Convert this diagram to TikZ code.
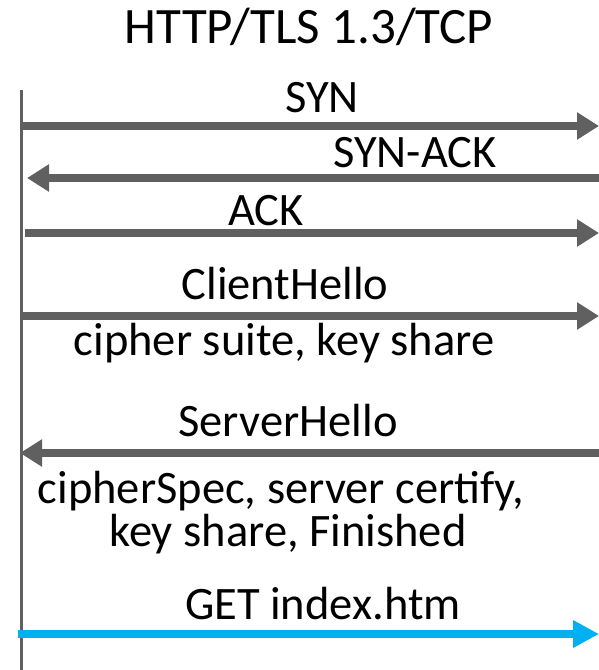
\documentclass[tikz,border=0pt]{standalone}
\usepackage{fontspec}
\setmainfont{Carlito}
\usetikzlibrary{arrows.meta}
\definecolor{msggray}{HTML}{606060}
\definecolor{msgblue}{HTML}{00B0F0}
\tikzset{
  lbl/.style={anchor=base, inner sep=0pt, font=\fontsize{46.5}{50}\selectfont, align=center},
  ttl/.style={anchor=base, inner sep=0pt, font=\fontsize{51}{56}\selectfont},
  msg/.style={draw=msggray, line width=8pt, -{Triangle[length=22pt,width=26pt]}},
  msgb/.style={draw=msgblue, line width=8pt, -{Triangle[length=26pt,width=26pt]}},
  life/.style={draw=msggray, line width=3pt}
}
\begin{document}
\begin{tikzpicture}[x=1pt,y=-1pt]
\useasboundingbox (0,0) rectangle (599,670);
% lifeline
\coordinate (lt) at (21,90);
\coordinate (lb) at (21,670);
\draw[life] (lt) -- (lb);
% endpoints
\coordinate (s1) at (23,126);  \coordinate (e1) at (599,126);
\coordinate (s2) at (599,178); \coordinate (e2) at (27,178);
\coordinate (s3) at (25,233);  \coordinate (e3) at (599,233);
\coordinate (s4) at (22,316);  \coordinate (e4) at (599,316);
\coordinate (s5) at (599,453); \coordinate (e5) at (20,453);
\coordinate (s6) at (18,634);  \coordinate (e6) at (599,634);
\draw[msg] (s1) -- (e1);
\draw[msg] (s2) -- (e2);
\draw[msg] (s3) -- (e3);
\draw[msg] (s4) -- (e4);
\draw[msg] (s5) -- (e5);
\draw[msgb] (s6) -- (e6);
% labels
\node[ttl] (title) at (309,43) {HTTP/TLS 1.3/TCP};
\node[lbl] (syn) at (322,112) {SYN};
\node[lbl] (synack) at (415,167) {SYN-ACK};
\node[lbl] (ack) at (266,225) {ACK};
\node[lbl] (ch) at (285,299) {ClientHello};
\node[lbl] (chx) at (284,355) {cipher suite, key share};
\node[lbl] (sh) at (288,436) {ServerHello};
\node[lbl] (shx1) at (281,503) {cipherSpec, server certify,};
\node[lbl] (shx2) at (288,546) {key share, Finished};
\node[lbl] (get) at (323,619) {GET index.htm};
\end{tikzpicture}
\end{document}
